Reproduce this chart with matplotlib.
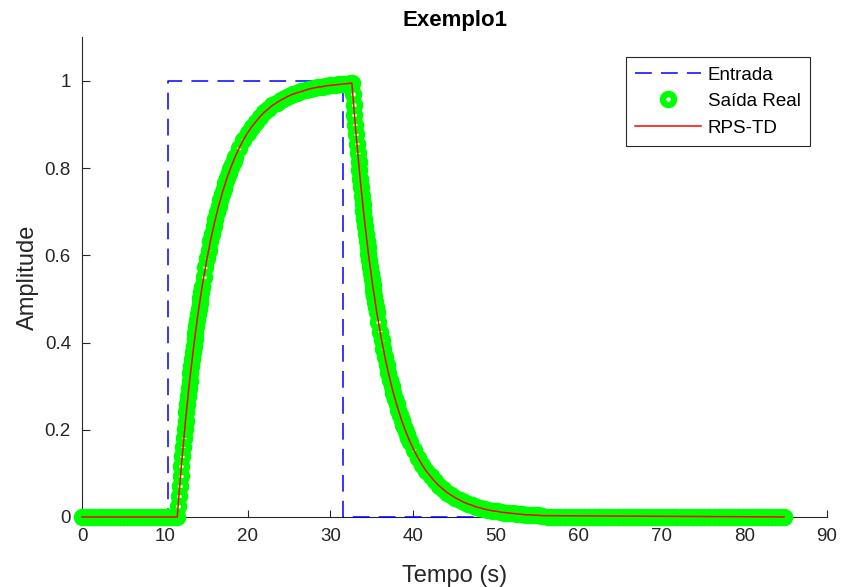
import numpy as np
import matplotlib
matplotlib.use("Agg")
import matplotlib.pyplot as plt

plt.rcParams['font.family'] = ['Liberation Sans', 'DejaVu Sans']

# Entrada (degrau de 10.4 s a 31.5 s)
t_in = [0.0, 10.4, 10.4, 31.5, 31.5, 84.8]
u_in = [0.0, 0.0, 1.0, 1.0, 0.0, 0.0]

# Saida real (amostras)
def grid(a, b, h):
    return np.round(np.arange(a, b + h / 2, h), 2)

y_head = [0.0] * 23                                   # t = 0 .. 11 (0.5)
y_rise1 = [0.000, 0.025, 0.049, 0.072, 0.095, 0.118, 0.139, 0.161, 0.181, 0.201,
           0.221, 0.240, 0.259, 0.277, 0.295, 0.313, 0.330, 0.346, 0.362, 0.378,
           0.393, 0.408, 0.423, 0.437, 0.451, 0.465, 0.478, 0.491, 0.503, 0.516,
           0.528]                                     # t = 11.5 .. 14.5 (0.1)
y_rise2 = [0.551, 0.573, 0.593, 0.613, 0.632, 0.650, 0.667, 0.683, 0.699, 0.713,
           0.727, 0.741, 0.753, 0.765, 0.777, 0.788, 0.798, 0.808, 0.817, 0.826]  # 14.7 .. 18.5
y_rise3 = [0.847, 0.865, 0.881, 0.895, 0.907, 0.918, 0.928, 0.936, 0.944, 0.950,
           0.956, 0.961, 0.966, 0.970, 0.973, 0.976, 0.979, 0.982, 0.984, 0.986,
           0.987, 0.989, 0.990, 0.991, 0.992, 0.993, 0.994, 0.995]  # 19 .. 32.5
y_fall1 = [0.995, 0.970, 0.946, 0.923, 0.900, 0.878, 0.856, 0.835, 0.815, 0.795,
           0.775, 0.756, 0.737, 0.719, 0.701, 0.684, 0.667, 0.650, 0.634, 0.619,
           0.603, 0.589, 0.574, 0.560, 0.546, 0.533, 0.519, 0.507, 0.494, 0.482,
           0.470]                                     # 32.6 .. 35.6
y_fall2 = [0.447, 0.425, 0.405, 0.385, 0.366, 0.348, 0.331, 0.315, 0.300, 0.285,
           0.271, 0.258, 0.245, 0.233, 0.222, 0.211, 0.201, 0.191, 0.182, 0.173]  # 35.8 .. 39.6
y_fall3 = [0.153, 0.135, 0.119, 0.105, 0.093, 0.082, 0.072, 0.064, 0.056, 0.050,
           0.044, 0.039, 0.034, 0.030, 0.027, 0.023, 0.021, 0.018, 0.016, 0.014,
           0.013, 0.011, 0.010, 0.009, 0.008, 0.007, 0.006, 0.005, 0.005, 0.004,
           0.004, 0.003]                              # 40.1 .. 55.6
y_tail = [0.0] * 58                                   # 56.3 .. 84.8

t_real = np.concatenate([grid(0, 11, 0.5), grid(11.5, 14.5, 0.1), grid(14.7, 18.5, 0.2),
                         grid(19, 32.5, 0.5), grid(32.6, 35.6, 0.1), grid(35.8, 39.6, 0.2),
                         grid(40.1, 55.6, 0.5), grid(56.3, 84.8, 0.5)])
y_real = np.array(y_head + y_rise1 + y_rise2 + y_rise3 + y_fall1 + y_fall2 + y_fall3 + y_tail)

# Modelo RPS-TD
y_rps_rise = [0.0, 0.118, 0.221, 0.313, 0.393, 0.465, 0.528, 0.583, 0.632, 0.675,
              0.713, 0.747, 0.777, 0.803, 0.826, 0.847, 0.865, 0.881, 0.895, 0.907,
              0.918, 0.928, 0.936, 0.944, 0.950, 0.956, 0.961, 0.966, 0.970, 0.973,
              0.976, 0.979, 0.982, 0.984, 0.986, 0.987, 0.989, 0.990, 0.991, 0.992,
              0.993, 0.994, 0.995]                    # 11.5 .. 32.5
y_rps_fall = [0.995, 0.878, 0.775, 0.684, 0.603, 0.533, 0.470, 0.415, 0.366, 0.323,
              0.285, 0.252, 0.222, 0.196, 0.173, 0.153, 0.135, 0.119, 0.105, 0.093,
              0.082, 0.072, 0.064, 0.056, 0.050, 0.044, 0.039, 0.034, 0.030, 0.027,
              0.023, 0.021, 0.018, 0.016, 0.014, 0.013, 0.011, 0.010, 0.009, 0.008,
              0.007, 0.006, 0.005, 0.005, 0.004, 0.004, 0.003]  # 32.6 .. 55.6
t_rps = np.concatenate([[0.0], grid(11.5, 32.5, 0.5), grid(32.6, 55.6, 0.5), [84.8]])
y_rps = np.array([0.0] + y_rps_rise + y_rps_fall + [0.0])

dark = '#262626'

fig = plt.figure(figsize=(8.44, 5.87), dpi=100)
ax = fig.add_axes([0.0972, 0.1193, 0.8827, 0.817])

ax.plot(t_in, u_in, color=(0, 0, 1), lw=1.1, dashes=(11, 6), label='Entrada',
        clip_on=False, zorder=3)
ax.plot(t_real, y_real, 'o', ls='none', mfc='none', mec=(0, 1, 0), ms=8, mew=4.6,
        label='Saída Real', clip_on=False, zorder=4)
ax.plot(t_rps, y_rps, color=(1, 0, 0), lw=1.1, label='RPS-TD', clip_on=False, zorder=5)

ax.set_xlim(0, 90)
ax.set_ylim(0, 1.1)
ax.set_xticks(np.arange(0, 91, 10))
ax.set_yticks([0, 0.2, 0.4, 0.6, 0.8, 1.0])
ax.set_yticklabels(['0', '0.2', '0.4', '0.6', '0.8', '1'])

for s in ['top', 'right']:
    ax.spines[s].set_visible(False)
for s in ['left', 'bottom']:
    ax.spines[s].set_color(dark)
    ax.spines[s].set_linewidth(0.8)
ax.tick_params(direction='in', length=5.4, width=0.8, color=dark, labelcolor=dark,
               labelsize=13.5, pad=8)

ax.set_xlabel('Tempo (s)', fontsize=17, color=dark, labelpad=14)
ax.set_ylabel('Amplitude', fontsize=17, color=dark, labelpad=4)
ax.set_title('Exemplo1', fontsize=16, fontweight='bold', color='black', pad=8)

leg = ax.legend(loc='upper right', bbox_to_anchor=(0.977, 0.959), borderaxespad=0,
                fontsize=13.5, frameon=True, fancybox=False, framealpha=1,
                edgecolor=dark, handlelength=3.5, handletextpad=0.35,
                labelspacing=0.5, borderpad=0.5, numpoints=1)
leg.get_frame().set_linewidth(0.8)

fig.savefig('out.png', dpi=100)
